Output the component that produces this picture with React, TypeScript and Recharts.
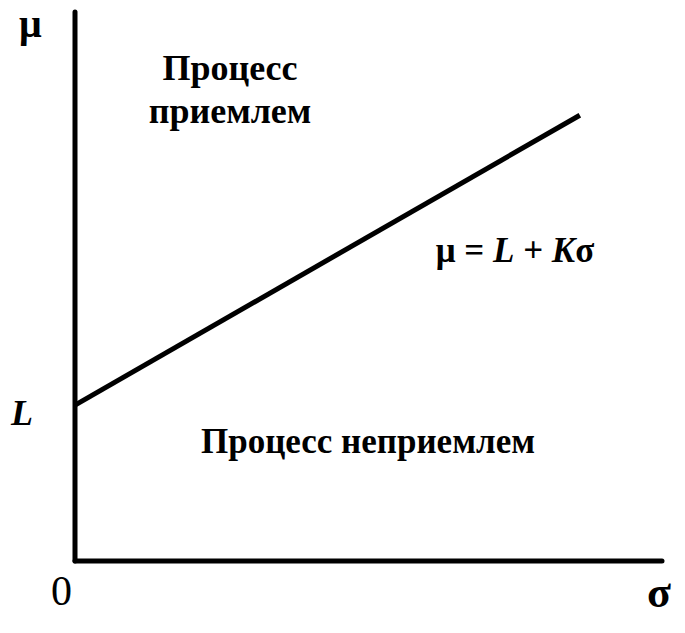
import React from 'react';
import { LineChart, Line, XAxis, YAxis, ReferenceLine } from 'recharts';

// σ values (x) and μ values (y) of the boundary line μ = L + Kσ
const sigmaValues = [0, 86];
const muValues = [28.4, 81.2];
const xDomain = [0, 100];
const yDomain = [0, 100];

const data = sigmaValues.map((s, i) => ({ sigma: s, mu: muValues[i] }));

const FONT = '"Liberation Serif", "Times New Roman", serif';

export default function App() {
  return (
    <div style={{ margin: -8, width: 685, height: 633 }}>
      <LineChart
        width={685}
        height={633}
        data={data}
        margin={{ top: 12, right: 23, bottom: 72, left: 75 }}
        style={{ fontFamily: FONT }}
      >
        <XAxis dataKey="sigma" type="number" domain={xDomain} hide />
        <YAxis type="number" domain={yDomain} hide />
        <ReferenceLine x={0} stroke="#000" strokeWidth={5} strokeLinecap="round" />
        <ReferenceLine y={0} stroke="#000" strokeWidth={5} strokeLinecap="round" />
        <Line
          dataKey="mu"
          stroke="#000"
          strokeWidth={5}
          dot={false}
          isAnimationActive={false}
        />
        <text x={19} y={37} fontSize={40} fontWeight="bold" fontFamily={FONT}>μ</text>
        <text x={11} y={425} fontSize={36} fontStyle="italic" fontWeight="bold" fontFamily={FONT}>L</text>
        <text x={51} y={605} fontSize={42} fontFamily={FONT}>0</text>
        <text x={647} y={607} fontSize={44} fontWeight="bold" fontFamily={FONT}>σ</text>
        <text x={230} y={80} fontSize={36} fontWeight="bold" textAnchor="middle" fontFamily={FONT}>Процесс</text>
        <text x={230} y={123} fontSize={36} fontWeight="bold" textAnchor="middle" fontFamily={FONT}>приемлем</text>
        <text x={515} y={262} fontSize={35} fontWeight="bold" textAnchor="middle" fontFamily={FONT}>
          μ = <tspan fontStyle="italic">L</tspan> + <tspan fontStyle="italic">K</tspan>σ
        </text>
        <text x={368} y={453} fontSize={35} fontWeight="bold" textAnchor="middle" fontFamily={FONT}>Процесс неприемлем</text>
      </LineChart>
    </div>
  );
}
